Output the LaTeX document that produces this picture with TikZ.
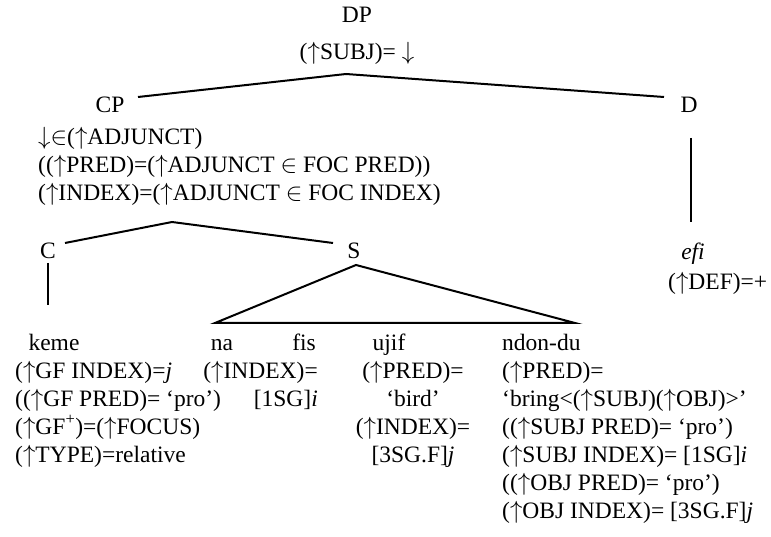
\documentclass[tikz,border=0pt]{standalone}
\usepackage{fontspec}
\setmainfont{Liberation Serif}
\newcommand{\upar}{$\uparrow$}
\newcommand{\dnar}{$\downarrow$}
\newcommand{\belongs}{$\in$}

\begin{document}
\begin{tikzpicture}[x=1pt, y=-1pt, every node/.style={font=\fontsize{23.5}{28}\selectfont, inner sep=0pt}, cat/.style={anchor=base}, fs/.style={anchor=base west, align=left}, edge/.style={line width=2pt}]
	\useasboundingbox (0,0) rectangle (771,537);
	% categories and the words, placed on their baselines
	\node[cat] (dp) at (357,23) {DP};
	\node[cat] (dpf) at (357,60) {(\upar SUBJ)= \dnar};
	\node[cat] (cp) at (110,113) {CP};
	\node[cat] (d) at (689,113) {D};
	\node[cat] (c) at (48,259) {C};
	\node[cat] (s) at (354,259) {S};
	\node[cat] (efi) at (693,260) {\textit{efi}};
	\node[cat] (keme) at (54,350) {keme};
	\node[cat] (na) at (222,350) {na};
	\node[cat] (fis) at (304,350) {fis};
	\node[cat] (ujif) at (389,350) {ujif};
	\node[fs] (ndondu) at (502,350) {ndon-du};
	% equations, anchored on the baseline of their last line
	\node[fs] (cpf) at (38,201) {\dnar\belongs(\upar ADJUNCT)\\((\upar PRED)=(\upar ADJUNCT \belongs\ FOC PRED))\\(\upar INDEX)=(\upar ADJUNCT \belongs\ FOC INDEX)};
	\node[fs] (deff) at (668,290) {(\upar DEF)=+};
	\node[fs] (kemef) at (15,462) {(\upar GF INDEX)=\textit{j}\\((\upar GF PRED)= ‘pro’)\\(\upar GF\textsuperscript{+})=(\upar FOCUS)\\(\upar TYPE)=relative};
	\node[anchor=base east, align=right] (fisf) at (318,406) {(\upar INDEX)=\\{[}1SG{]}\textit{i}};
	\node[anchor=base, align=center] (ujiff) at (413,462) {(\upar PRED)=\\‘bird’\\(\upar INDEX)=\\{[}3SG.F{]}\textit{j}};
	\node[fs] (ndonduf) at (502,518) {(\upar PRED)=\\‘bring<(\upar SUBJ)(\upar OBJ)>’\\((\upar SUBJ PRED)= ‘pro’)\\(\upar SUBJ INDEX)= {[}1SG{]}\textit{i}\\((\upar OBJ PRED)= ‘pro’)\\(\upar OBJ INDEX)= {[}3SG.F{]}\textit{j}};
	% branch ends
	\coordinate (dptop) at (346,74);
	\coordinate (cpend) at (138,97);
	\coordinate (dend) at (664,97);
	\coordinate (dtop) at (691,138);
	\coordinate (dbot) at (691,222);
	\coordinate (cptop) at (172,222);
	\coordinate (cend) at (65,243);
	\coordinate (send) at (333,243);
	\coordinate (ctop) at (48,263);
	\coordinate (cbot) at (48,305);
	\coordinate (stop) at (356,265);
	\coordinate (sleft) at (215,323);
	\coordinate (sright) at (575,323);
	\foreach \a/\b in {cpend/dptop, dptop/dend, dtop/dbot, cend/cptop, cptop/send, ctop/cbot} {\draw[edge] (\a) -- (\b);}
	\draw[edge] (stop) -- (sleft) -- (sright) -- cycle;
\end{tikzpicture}
\end{document}
